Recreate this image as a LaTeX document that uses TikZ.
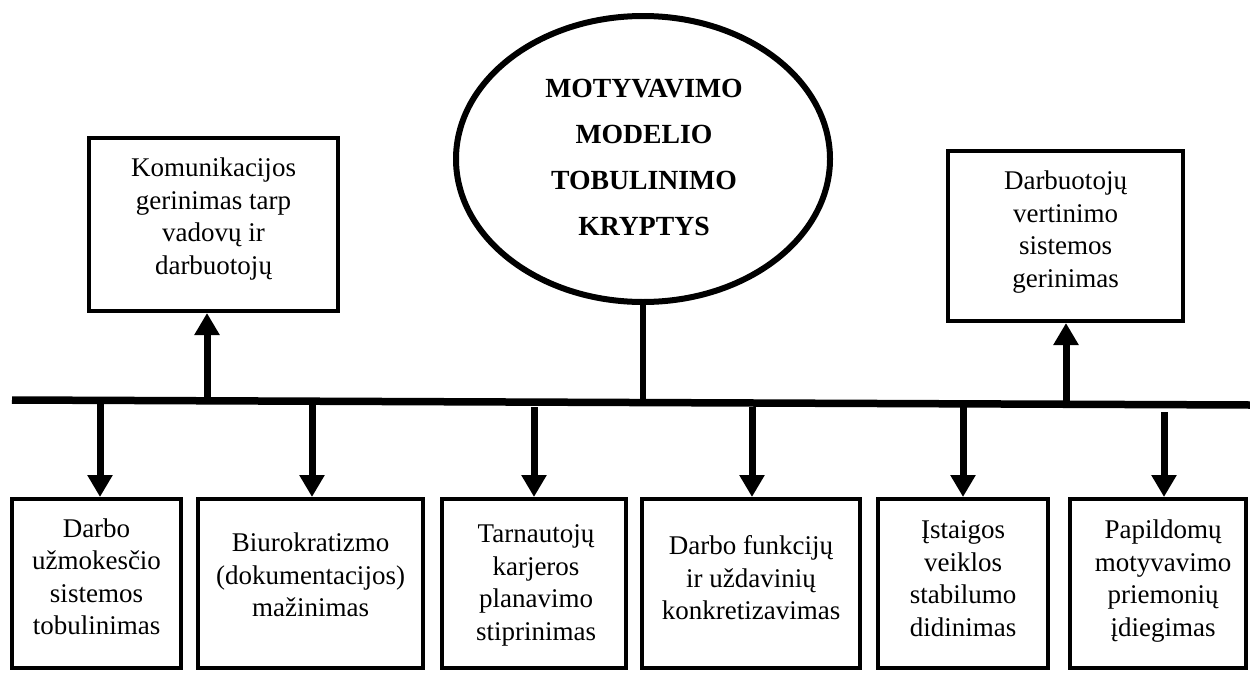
\documentclass[tikz,border=0pt]{standalone}
\usepackage{fontspec}
\setmainfont{Liberation Serif}
\usetikzlibrary{arrows.meta,shapes.geometric}
\begin{document}
\begin{tikzpicture}[x=1pt,y=-1pt,
  box/.style={draw, line width=4pt, rectangle, inner sep=0pt},
  txt/.style={anchor=north, align=center, inner sep=0pt,
    font=\fontsize{27}{32.5}\selectfont},
  hub/.style={draw, line width=6pt, ellipse, inner sep=0pt,
    minimum width=374pt, minimum height=286pt},
  hubtxt/.style={anchor=north, align=center, inner sep=0pt,
    font=\fontsize{27.7}{46}\selectfont\bfseries},
  bar/.style={line width=7.5pt},
  arr/.style={line width=7pt, -{Triangle[length=22pt,width=24pt]}}]
\useasboundingbox (0,0) rectangle (1250,672);

% central ellipse and its title (north of a text block = first baseline - 0.7 skip)
\node[hub] (hub) at (643,159) {};
\node[hubtxt] (hubt) at (644,64.8)
  {\strut MOTYVAVIMO\\\strut MODELIO\\\strut TOBULINIMO\\\strut KRYPTYS};

% upper boxes
\node[box, minimum width=249pt, minimum height=173pt] (tl) at (213.5,224.5) {};
\node[txt] (tlt) at (213.5,154)
  {\strut Komunikacijos\\\strut gerinimas tarp\\\strut vadovų ir\\\strut darbuotojų};
\node[box, minimum width=235pt, minimum height=170pt] (tr) at (1065.5,236) {};
\node[txt] (trt) at (1065.5,167)
  {\strut Darbuotojų\\\strut vertinimo\\\strut sistemos\\\strut gerinimas};

% lower boxes
\node[box, minimum width=169pt, minimum height=169pt] (b1) at (96.5,583.5) {};
\node[txt] (b1t) at (96.5,514.5)
  {\strut Darbo\\\strut užmokesčio\\\strut sistemos\\\strut tobulinimas};
\node[box, minimum width=225pt, minimum height=169pt] (b2) at (310.5,583.5) {};
\node[txt] (b2t) at (310.5,529)
  {\strut Biurokratizmo\\\strut (dokumentacijos)\\\strut mažinimas};
\node[box, minimum width=184pt, minimum height=169pt] (b3) at (534,583.5) {};
\node[txt] (b3t) at (536,520)
  {\strut Tarnautojų\\\strut karjeros\\\strut planavimo\\\strut stiprinimas};
\node[box, minimum width=218pt, minimum height=169pt] (b4) at (751,583.5) {};
\node[txt] (b4t) at (751,532)
  {\strut Darbo funkcijų\\\strut ir uždavinių\\\strut konkretizavimas};
\node[box, minimum width=170pt, minimum height=169pt] (b5) at (963,583.5) {};
\node[txt] (b5t) at (963,516)
  {\strut Įstaigos\\\strut veiklos\\\strut stabilumo\\\strut didinimas};
\node[box, minimum width=176pt, minimum height=169pt] (b6) at (1158,583.5) {};
\node[txt] (b6t) at (1163,516)
  {\strut Papildomų\\\strut motyvavimo\\\strut priemonių\\\strut įdiegimas};

% the horizontal spine
\coordinate (L) at (12,400);
\coordinate (R) at (1250,405);
\draw[bar] (L) -- (R);

% stem from the ellipse down to the spine
\coordinate (st) at (643,403);
\draw[line width=6pt] (hub.south) -- (st);

% arrows up to the upper boxes
\coordinate (u1) at (207,401);
\coordinate (u2) at (1066,404);
\draw[arr] (u1) -- (u1 |- tl.south);
\draw[arr] (u2) -- (u2 |- tr.south);

% arrows down to the lower boxes
\coordinate (d1) at (100,401);
\coordinate (d2) at (312,402);
\coordinate (d3) at (534,407);
\coordinate (d4) at (752,407);
\coordinate (d5) at (963,404);
\coordinate (d6) at (1164,412);
\draw[arr] (d1) -- (d1 |- b1.north);
\draw[arr] (d2) -- (d2 |- b2.north);
\draw[arr] (d3) -- (d3 |- b3.north);
\draw[arr] (d4) -- (d4 |- b4.north);
\draw[arr] (d5) -- (d5 |- b5.north);
\draw[arr] (d6) -- (d6 |- b6.north);
\end{tikzpicture}
\end{document}
